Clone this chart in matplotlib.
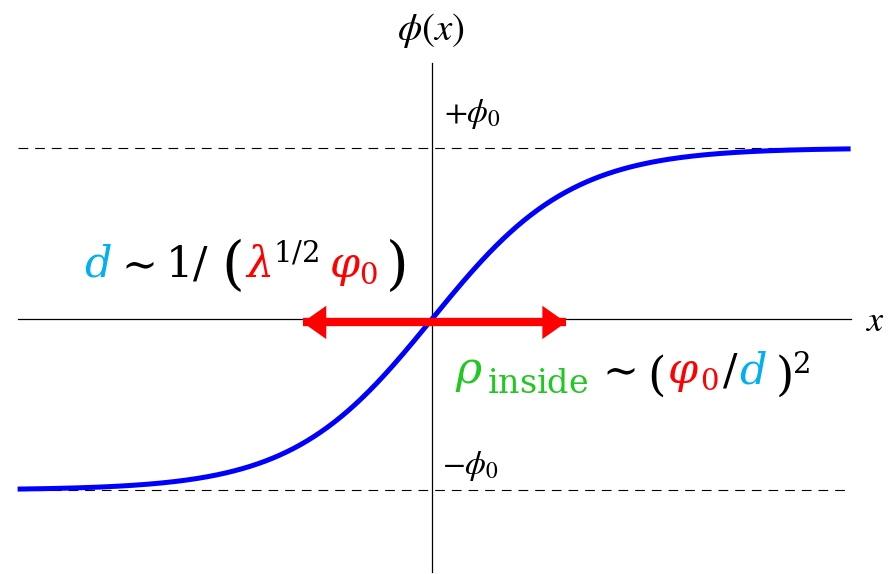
import numpy as np
import matplotlib
matplotlib.use("Agg")
import matplotlib.pyplot as plt
from matplotlib.patches import FancyArrowPatch, ArrowStyle

plt.rcParams["mathtext.fontset"] = "stix"
plt.rcParams["font.family"] = ["STIXGeneral", "DejaVu Serif"]
plt.rcParams["lines.scale_dashes"] = False

# Kink profile phi(x) = phi0 * tanh(x / d), in units of d and phi0
phi0 = 1.0
d = 1.0
x_range = (-2.96, 2.99)
phi_levels = [+phi0, -phi0]
axis_y_range = (-1.48, 1.50)
arrow_span = (-0.924, 0.957)
arrow_y = -0.02

W, H = 894, 574
fig = plt.figure(figsize=(W / 100, H / 100), dpi=100)
ax = fig.add_axes([0, 0, 1, 1])
ax.set_xlim(-432 / 140, (W - 432) / 140)
ax.set_ylim(-(H - 319) / 171, 319 / 171)
ax.axis("off")

x = np.linspace(x_range[0], x_range[1], 600)
phi = phi0 * np.tanh(x / d)

# coordinate axes
ax.plot(x_range, [0, 0], color="black", lw=0.9, zorder=1)
ax.plot([0, 0], axis_y_range, color="black", lw=0.9, zorder=1)

# asymptotes +phi0 / -phi0
for lev in phi_levels:
    ax.plot(x_range, [lev, lev], color="black", lw=0.8,
            dashes=(7, 5), zorder=1)

# kink solution
ax.plot(x, phi, color="#0000ff", lw=3.6, solid_capstyle="butt", zorder=3)

# width arrow: shaft + filled heads
red = "#ff0000"
ax.plot(arrow_span, [arrow_y, arrow_y], color=red, lw=6.0,
        solid_capstyle="butt", zorder=4)
heads = FancyArrowPatch((arrow_span[0], arrow_y), (arrow_span[1], arrow_y),
                        arrowstyle=ArrowStyle("<|-|>", head_length=17,
                                              head_width=12),
                        mutation_scale=1, lw=0, color=red,
                        shrinkA=0, shrinkB=0, zorder=5)
ax.add_patch(heads)


def put(px, py, s, color="black", size=31, ha="left", va="baseline",
        mfont="dejavuserif"):
    fig.text(px / W, 1 - py / H, s, color=color, fontsize=size,
             ha=ha, va=va, math_fontfamily=mfont)


cyan = "#00b0f0"
green = "#22c822"

# axis labels
put(431, 30, r"$\phi(x)$", size=28, ha="center", va="center", mfont="stix")
put(876, 322, r"$x$", size=26, ha="center", va="center", mfont="stix")
put(444, 114, r"$+\phi_0$", size=24, va="center", mfont="stix")
put(442, 466, r"$-\phi_0$", size=24, va="center", mfont="stix")

# d ~ 1/(lambda^{1/2} varphi_0)
put(84, 277, r"$d$", cyan)
put(113, 277, r"$\sim$")
put(165, 277, r"$1/$")
put(221, 283, r"$($", size=42)
put(245, 277, r"$\lambda$", red)
put(273, 262, r"$1/2$", size=21)
put(329, 277, r"$\varphi$", red)
put(359, 284, r"$0$", red, size=21)
put(385, 283, r"$)$", size=42)

# rho_inside ~ (varphi_0 / d)^2
put(455, 383, r"$\rho$", green, size=32)
put(487, 393, r"$\mathrm{inside}$", green, size=24)
put(594, 383, r"$\sim$")
put(647, 390, r"$($", size=34)
put(667, 383, r"$\varphi$", red)
put(700, 390, r"$0$", red, size=21)
put(722, 383, r"$/$")
put(739, 383, r"$d$", cyan)
put(775, 390, r"$)$", size=34)
put(792, 373, r"$2$", size=21)

fig.savefig("out.png", dpi=100)
